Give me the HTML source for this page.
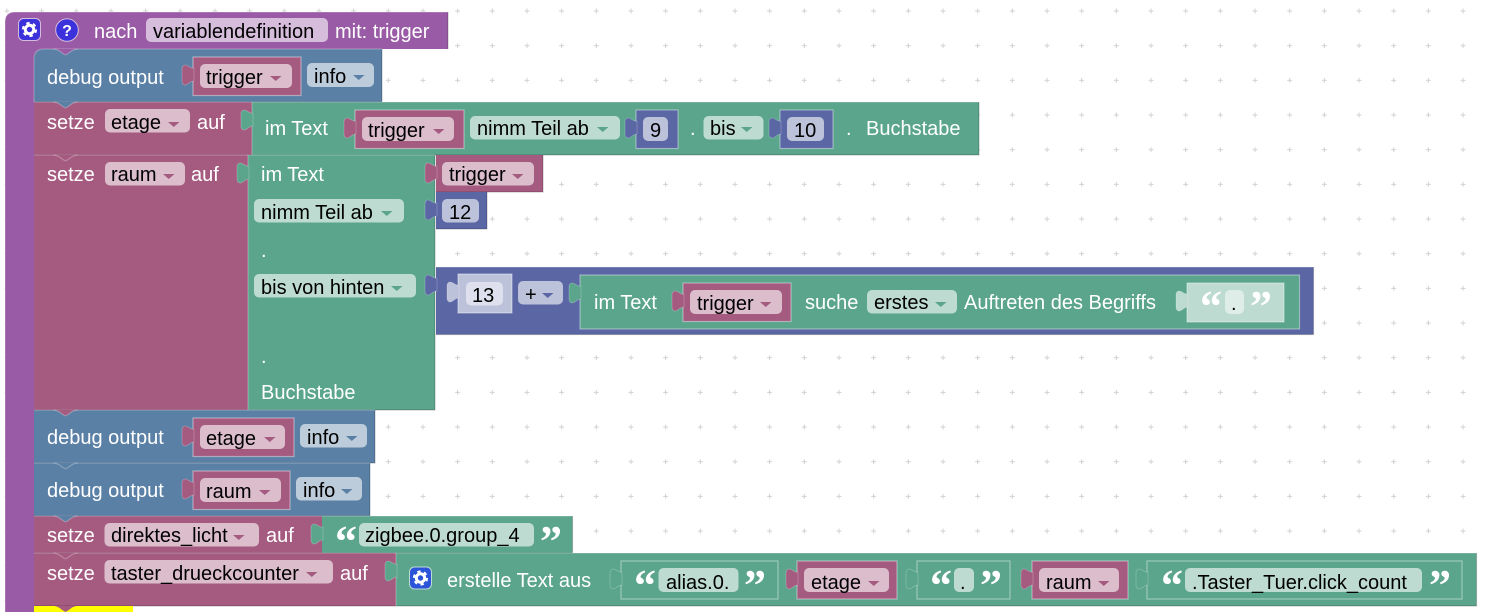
<!DOCTYPE html>
<html><head><meta charset="utf-8"><style>
html,body{margin:0;padding:0;background:#fff;width:1486px;height:612px;overflow:hidden}
svg{display:block}
text{font-family:"Liberation Sans",sans-serif;font-size:20px;fill:#000;white-space:pre}
text.w{fill:#fff}
text.q{font-family:"Liberation Serif",serif;font-weight:bold;font-size:44px;fill:#fff}
.lt{fill:none;stroke:#fff;stroke-opacity:.25;stroke-width:1.2}
.dk{fill:none;stroke:#000;stroke-opacity:.2;stroke-width:1.2}
.in{stroke:#fff;stroke-opacity:.4;stroke-width:1.2}
.tb{stroke:#fff;stroke-opacity:.25;stroke-width:.8}
</style></head><body>
<svg width="1486" height="612" viewBox="0 0 1486 612" xmlns="http://www.w3.org/2000/svg">
<defs>
<pattern id="grid" x="6.9" y="11" width="34.67" height="34.67" patternUnits="userSpaceOnUse">
<path d="M0,-2.5V2.5M-2.5,0H2.5M34.67,-2.5V2.5M32.17,0H37.17M0,32.17V37.17M-2.5,34.67H2.5M34.67,32.17V37.17M32.17,34.67H37.17" stroke="#d2d2d2" stroke-width="1" fill="none"/>
</pattern>
<path id="t" class="tb" d="M1,3.300C-3,3.300 -5,0 -8,0C-10,0 -11,2 -11,4L-11,16C-11,18 -10,20 -8,20C-5,20 -3,16 1,16Z"/>
<path id="n" d="M-12,0C-9,0 -7,1 -4,3.500L-1,5.500Q0,6 1,5.500L4,3.500C7,1 9,0 12,0Z"/>
<path id="nl" class="lt" d="M-12,0C-9,0 -7,1 -4,3.500L-1,5.500Q0,6 1,5.500L4,3.500C7,1 9,0 12,0"/>
<path id="a" d="M0,0H11.5L5.75,5Z"/>
<g id="gear"><circle cx="0" cy="0" r="4.2" fill="none" stroke="#fff" stroke-width="3"/><circle cx="0" cy="0" r="6.6" fill="none" stroke="#fff" stroke-width="2" stroke-dasharray="3.4 3.51"/></g>
</defs>
<rect width="1486" height="612" fill="#fff"/>
<rect width="1486" height="612" fill="url(#grid)"/>

<!-- hat + strip -->
<path d="M5,612V22Q5,12 15,12H448V49H46V61H34V612Z" fill="#995ba5"/>
<path d="M5,612V22Q5,12 15,12H448" class="lt"/>
<path d="M448,12V49" class="dk"/>
<rect x="18.500" y="18.500" width="22" height="22" rx="5" fill="#3b32dc" stroke="#d6bbdb" stroke-width="1"/>
<use href="#gear" x="29.500" y="29.500"/>
<circle cx="67" cy="30" r="11.300" fill="#3b32dc" stroke="#d6bbdb" stroke-width="1"/>
<text x="67" y="36" text-anchor="middle" class="w" style="font-size:16px;font-weight:bold">?</text>
<text class="w" x="94" y="38">nach</text>
<rect x="146" y="18" width="182" height="24" rx="5" fill="#d6bddb"/>
<text x="153" y="38">variablendefinition</text>
<text class="w" x="335" y="38">mit: trigger</text>

<!-- debug 1 -->
<path d="M34,102V59Q34,49 44,49H382V102Z" fill="#5b80a5"/>
<path d="M34,102V59Q34,49 44,49H382" class="lt"/><path d="M382,49V102H34" class="dk"/>
<use href="#n" x="65.500" y="49" fill="#995ba5"/><use href="#nl" x="65.500" y="49"/>
<text class="w" x="47" y="84">debug output</text>
<rect x="193" y="57" width="108" height="38.500" fill="#a55b80" class="in"/>
<use href="#t" x="193" y="65" fill="#a55b80"/>
<rect x="200" y="64" width="92" height="24" rx="5" fill="#dbbdcc"/>
<text x="206" y="84">trigger</text><use href="#a" x="270" y="76" fill="#a55b80"/>
<rect x="307" y="63" width="67" height="24" rx="5" fill="#bdccdb"/>
<text x="314" y="83">info</text><use href="#a" x="353" y="75" fill="#5b80a5"/>

<!-- setze etage -->
<rect x="34" y="102" width="218" height="53" fill="#a55b80"/>
<path d="M34,102H252" class="lt"/><path d="M34,155H252" class="dk"/>
<use href="#n" x="65.500" y="102" fill="#5b80a5"/><use href="#nl" x="65.500" y="102"/>
<text class="w" x="47" y="129">setze</text>
<rect x="105" y="109" width="85" height="23.500" rx="5" fill="#dbbdcc"/>
<text x="111" y="129">etage</text><use href="#a" x="168" y="122" fill="#a55b80"/>
<text class="w" x="197" y="129">auf</text>
<rect x="252" y="102" width="727" height="53" fill="#5ba58c"/>
<path d="M252,155V102H979" class="lt"/><path d="M979,102V155H252" class="dk"/>
<use href="#t" x="252" y="110" fill="#5ba58c"/>
<text class="w" x="265" y="135">im Text</text>
<rect x="355" y="110" width="109" height="38.500" fill="#a55b80" class="in"/>
<use href="#t" x="355" y="118" fill="#a55b80"/>
<rect x="362" y="117" width="92" height="24" rx="5" fill="#dbbdcc"/>
<text x="368" y="137">trigger</text><use href="#a" x="433" y="129" fill="#a55b80"/>
<rect x="470" y="116" width="150" height="23.500" rx="5" fill="#bddbd1"/>
<text x="477" y="135">nimm Teil ab</text><use href="#a" x="597" y="127" fill="#5ba58c"/>
<rect x="636" y="110" width="42" height="38.500" fill="#5b67a5" class="in"/>
<use href="#t" x="636" y="118" fill="#5b67a5"/>
<rect x="643" y="117" width="25" height="24" rx="5" fill="#bdc2db"/>
<text x="650" y="137">9</text>
<text class="w" x="690" y="135">.</text>
<rect x="703.500" y="116" width="60" height="23.500" rx="5" fill="#bddbd1"/>
<text x="710" y="135">bis</text><use href="#a" x="741" y="127" fill="#5ba58c"/>
<rect x="780" y="110" width="53" height="38.500" fill="#5b67a5" class="in"/>
<use href="#t" x="780" y="118" fill="#5b67a5"/>
<rect x="787" y="117" width="37" height="24" rx="5" fill="#bdc2db"/>
<text x="794" y="137">10</text>
<text class="w" x="846" y="135">.</text>
<text class="w" x="866" y="135">Buchstabe</text>

<!-- setze raum -->
<rect x="34" y="155" width="214" height="255" fill="#a55b80"/>
<path d="M34,155H248" class="lt"/><path d="M34,410H248" class="dk"/>
<use href="#n" x="65.500" y="155" fill="#a55b80"/><use href="#nl" x="65.500" y="155"/>
<text class="w" x="47" y="181">setze</text>
<rect x="105" y="162" width="80" height="23.500" rx="5" fill="#dbbdcc"/>
<text x="111" y="181">raum</text><use href="#a" x="163" y="174" fill="#a55b80"/>
<text class="w" x="191" y="181">auf</text>
<rect x="248" y="155" width="187" height="255" fill="#5ba58c"/>
<path d="M248,410V155H435" class="lt"/><path d="M435,155V410H248" class="dk"/>
<use href="#t" x="248" y="163" fill="#5ba58c"/>
<text class="w" x="261" y="181">im Text</text>
<rect x="254" y="199" width="150" height="23.500" rx="5" fill="#bddbd1"/>
<text x="261" y="219">nimm Teil ab</text><use href="#a" x="381" y="211" fill="#5ba58c"/>
<text class="w" x="261" y="257">.</text>
<rect x="254" y="274" width="162" height="23.500" rx="5" fill="#bddbd1"/>
<text x="261" y="294">bis von hinten</text><use href="#a" x="391" y="286" fill="#5ba58c"/>
<text class="w" x="261" y="363">.</text>
<text class="w" x="261" y="399">Buchstabe</text>

<rect x="436" y="155" width="107" height="37" fill="#a55b80"/>
<path d="M543,155V192H436" class="dk"/>
<use href="#t" x="436" y="163" fill="#a55b80"/>
<rect x="442" y="162" width="92" height="23.500" rx="5" fill="#dbbdcc"/>
<text x="449" y="181">trigger</text><use href="#a" x="512" y="174" fill="#a55b80"/>
<rect x="436" y="192" width="51" height="37" fill="#5b67a5"/>
<path d="M487,192V229H436" class="dk"/>
<use href="#t" x="436" y="200" fill="#5b67a5"/>
<rect x="442" y="199" width="37" height="23.500" rx="5" fill="#bdc2db"/>
<text x="449" y="219">12</text>

<rect x="436" y="267" width="877.500" height="67.500" fill="#5b67a5"/>
<path d="M436,267H1313.500" class="lt"/><path d="M1313.500,267V334.500H436" class="dk"/>
<use href="#t" x="436" y="275" fill="#5b67a5"/>
<rect x="458" y="274" width="54" height="39" fill="#bdc2db" class="in"/>
<use href="#t" x="458" y="282" fill="#bdc2db"/>
<rect x="466" y="282" width="37" height="23.500" rx="5" fill="#dee0ed"/>
<text x="472" y="302">13</text>
<rect x="518" y="281" width="45" height="23.500" rx="5" fill="#bdc2db"/>
<text x="525" y="301">+</text><use href="#a" x="542" y="293" fill="#5b67a5"/>
<rect x="580" y="275" width="719.500" height="54" fill="#5ba58c" class="in"/>
<use href="#t" x="580" y="283" fill="#5ba58c"/>
<text class="w" x="594" y="309">im Text</text>
<rect x="683" y="283" width="108" height="38.500" fill="#a55b80" class="in"/>
<use href="#t" x="683" y="291" fill="#a55b80"/>
<rect x="690" y="290" width="92" height="24" rx="5" fill="#dbbdcc"/>
<text x="697" y="310">trigger</text><use href="#a" x="760" y="302" fill="#a55b80"/>
<text class="w" x="805" y="309">suche</text>
<rect x="867" y="290" width="90" height="23.500" rx="5" fill="#bddbd1"/>
<text x="874" y="309">erstes</text><use href="#a" x="935" y="302" fill="#5ba58c"/>
<text class="w" x="964" y="309">Auftreten des Begriffs</text>
<rect x="1187" y="283" width="97" height="39" fill="#bddbd1" class="in"/>
<use href="#t" x="1187" y="291" fill="#bddbd1"/>
<text class="q" x="1200" y="321">“</text>
<rect x="1225" y="290" width="19" height="24" rx="5" fill="#deede8"/>
<text x="1231" y="310">.</text>
<text class="q" x="1250" y="321">”</text>

<!-- debug 2 -->
<rect x="34" y="410" width="341" height="53" fill="#5b80a5"/>
<path d="M34,410H375" class="lt"/><path d="M375,410V463H34" class="dk"/>
<use href="#n" x="65.500" y="410" fill="#a55b80"/><use href="#nl" x="65.500" y="410"/>
<text class="w" x="47" y="444">debug output</text>
<rect x="193" y="418" width="101" height="38.500" fill="#a55b80" class="in"/>
<use href="#t" x="193" y="426" fill="#a55b80"/>
<rect x="200" y="425" width="85" height="24" rx="5" fill="#dbbdcc"/>
<text x="206" y="445">etage</text><use href="#a" x="264" y="437" fill="#a55b80"/>
<rect x="300" y="424" width="67" height="23.500" rx="5" fill="#bdccdb"/>
<text x="307" y="444">info</text><use href="#a" x="346" y="436" fill="#5b80a5"/>

<!-- debug 3 -->
<rect x="34" y="463" width="336" height="53" fill="#5b80a5"/>
<path d="M34,463H370" class="lt"/><path d="M370,463V516H34" class="dk"/>
<use href="#n" x="65.500" y="463" fill="#5b80a5"/><use href="#nl" x="65.500" y="463"/>
<text class="w" x="47" y="497">debug output</text>
<rect x="193" y="471" width="97" height="38.500" fill="#a55b80" class="in"/>
<use href="#t" x="193" y="479" fill="#a55b80"/>
<rect x="200" y="478" width="81" height="24" rx="5" fill="#dbbdcc"/>
<text x="206" y="498">raum</text><use href="#a" x="259" y="490" fill="#a55b80"/>
<rect x="296" y="477" width="66" height="23.500" rx="5" fill="#bdccdb"/>
<text x="303" y="497">info</text><use href="#a" x="341" y="489" fill="#5b80a5"/>

<!-- setze direktes_licht -->
<rect x="34" y="516" width="288" height="37" fill="#a55b80"/>
<path d="M34,516H322" class="lt"/><path d="M34,553H322" class="dk"/>
<use href="#n" x="65.500" y="516" fill="#5b80a5"/><use href="#nl" x="65.500" y="516"/>
<text class="w" x="47" y="542">setze</text>
<rect x="104.500" y="523" width="154.500" height="23.500" rx="5" fill="#dbbdcc"/>
<text x="111" y="542">direktes_licht</text><use href="#a" x="233" y="535" fill="#a55b80"/>
<text class="w" x="266" y="542">auf</text>
<rect x="322" y="516" width="250.500" height="37" fill="#5ba58c"/>
<path d="M322,516H572.500" class="lt"/><path d="M572.500,516V553H322" class="dk"/>
<use href="#t" x="322" y="524" fill="#5ba58c"/>
<text class="q" x="335" y="556">“</text>
<rect x="359" y="523" width="175" height="23.500" rx="5" fill="#bddbd1"/>
<text x="365" y="542">zigbee.0.group_4</text>
<text class="q" x="540" y="556">”</text>

<!-- setze taster -->
<rect x="34" y="553" width="362" height="53" fill="#a55b80"/>
<path d="M34,553H396" class="lt"/><path d="M34,606H396" class="dk"/>
<use href="#n" x="65.500" y="553" fill="#a55b80"/><use href="#nl" x="65.500" y="553"/>
<text class="w" x="47" y="580">setze</text>
<rect x="104.500" y="560" width="228.500" height="23.500" rx="5" fill="#dbbdcc"/>
<text x="111" y="580">taster_drueckcounter</text><use href="#a" x="306" y="572" fill="#a55b80"/>
<text class="w" x="340" y="580">auf</text>
<rect x="396" y="553" width="1080.500" height="53" fill="#5ba58c"/>
<path d="M396,606V553H1476.500" class="lt"/><path d="M1476.500,553V606H396" class="dk"/>
<use href="#t" x="396" y="561" fill="#5ba58c"/>
<rect x="409.500" y="567" width="22" height="22" rx="5" fill="#2b54d8" stroke="#bddbd1" stroke-width="1"/>
<use href="#gear" x="420.500" y="578"/>
<text class="w" x="447" y="587">erstelle Text aus</text>

<rect x="621" y="561" width="157" height="38" fill="#5ba58c" class="in"/>
<use href="#t" x="621" y="569" fill="#5ba58c"/>
<text class="q" x="634" y="600">“</text>
<rect x="658.500" y="568" width="80" height="24" rx="5" fill="#bddbd1"/>
<text x="666" y="589">alias.0.</text>
<text class="q" x="744" y="600">”</text>

<rect x="797" y="561" width="100" height="38" fill="#a55b80" class="in"/>
<use href="#t" x="797" y="569" fill="#a55b80"/>
<rect x="804" y="568" width="85" height="24" rx="5" fill="#dbbdcc"/>
<text x="811" y="589">etage</text><use href="#a" x="868" y="581" fill="#a55b80"/>

<rect x="917" y="561" width="93" height="38" fill="#5ba58c" class="in"/>
<use href="#t" x="917" y="569" fill="#5ba58c"/>
<text class="q" x="930" y="600">“</text>
<rect x="954" y="568" width="20" height="24" rx="5" fill="#bddbd1"/>
<text x="960" y="589">.</text>
<text class="q" x="980" y="600">”</text>

<rect x="1032" y="561" width="96" height="38" fill="#a55b80" class="in"/>
<use href="#t" x="1032" y="569" fill="#a55b80"/>
<rect x="1039" y="568" width="80" height="24" rx="5" fill="#dbbdcc"/>
<text x="1046" y="589">raum</text><use href="#a" x="1098" y="581" fill="#a55b80"/>

<rect x="1147" y="561" width="315" height="38" fill="#5ba58c" class="in"/>
<use href="#t" x="1147" y="569" fill="#5ba58c"/>
<text class="q" x="1161" y="600">“</text>
<rect x="1185" y="568" width="237" height="24" rx="5" fill="#bddbd1"/>
<text x="1192" y="589">.Taster_Tuer.click_count</text>
<text class="q" x="1429" y="600">”</text>

<!-- yellow -->
<rect x="34" y="606" width="99" height="6" fill="#ffff00"/>
<use href="#n" x="65.500" y="606" fill="#a55b80"/>
</svg>
</body></html>
